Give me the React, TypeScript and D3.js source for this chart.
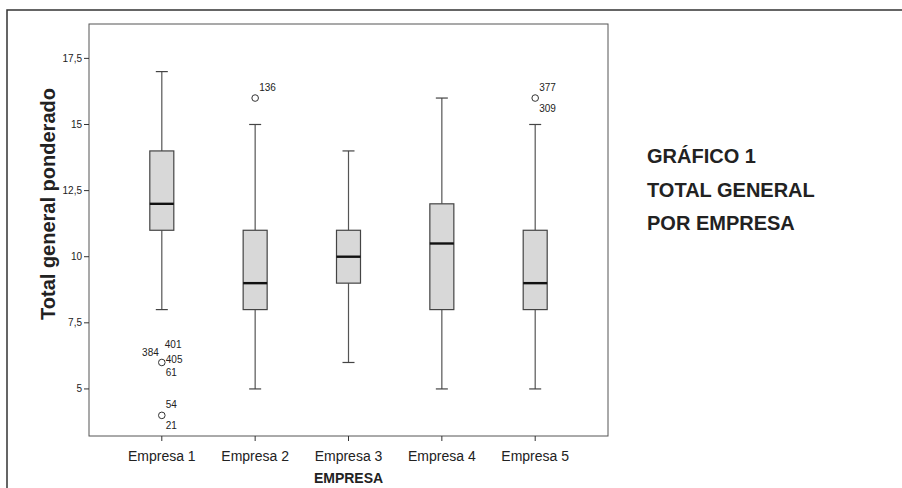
import * as d3 from "d3";

const WIDTH = 902;
const HEIGHT = 488;
const PLOT = { left: 89, top: 24, right: 608, bottom: 436 };

// boxplot summaries
const empresas = ["Empresa 1", "Empresa 2", "Empresa 3", "Empresa 4", "Empresa 5"];
const whiskerLow = [8, 5, 6, 5, 5];
const q1 = [11, 8, 9, 8, 8];
const medians = [12, 9, 10, 10.5, 9];
const q3 = [14, 11, 11, 12, 11];
const whiskerHigh = [17, 15, 14, 16, 15];

// outliers: empresa, value, case labels (with side they are written on)
const outliers = [
  { empresa: "Empresa 1", value: 6, labels: [["401", "top2"], ["384", "left"], ["405", "right"], ["61", "bottom"]] },
  { empresa: "Empresa 1", value: 4, labels: [["54", "top"], ["21", "bottom"]] },
  { empresa: "Empresa 2", value: 16, labels: [["136", "top"]] },
  { empresa: "Empresa 5", value: 16, labels: [["377", "top"], ["309", "bottom"]] },
];

const yTicks = [5, 7.5, 10, 12.5, 15, 17.5];
const titleLines = ["GRÁFICO 1", "TOTAL GENERAL", "POR EMPRESA"];

const LABEL_OFFSET: Record<string, [number, number, string]> = {
  top: [4, -7.5, "start"],
  top2: [3, -14, "start"],
  left: [-3, -6, "end"],
  right: [4, 1, "start"],
  bottom: [4, 13.5, "start"],
};

const fmt = (v: number) => String(v).replace(".", ",");

export default function App() {
  const x = d3
    .scalePoint()
    .domain(empresas)
    .range([PLOT.left, PLOT.right])
    .padding(0.78);
  const y = d3.scaleLinear().domain([3.22, 18.8]).range([PLOT.bottom, PLOT.top]);

  const boxW = 24;
  const capW = 12;
  const font = "Liberation Sans, Arial, Helvetica, sans-serif";

  return (
    <svg
      width={WIDTH}
      height={HEIGHT}
      style={{ position: "absolute", left: 0, top: 0, background: "#fff" }}
      fontFamily={font}
    >
      {/* outer frame */}
      <path d={`M7,${HEIGHT} L7,10 L${WIDTH},10`} fill="none" stroke="#333" strokeWidth={1.5} />

      {/* plot frame */}
      <rect
        x={PLOT.left}
        y={PLOT.top}
        width={PLOT.right - PLOT.left}
        height={PLOT.bottom - PLOT.top}
        fill="none"
        stroke="#555"
        strokeWidth={1}
      />

      {/* y axis */}
      {yTicks.map((t) => (
        <g key={t}>
          <line x1={PLOT.left - 5} x2={PLOT.left} y1={y(t)} y2={y(t)} stroke="#333" />
          <text x={PLOT.left - 7} y={y(t) + 3.5} fontSize={10} textAnchor="end" fill="#222">
            {fmt(t)}
          </text>
        </g>
      ))}
      <text
        transform={`translate(55,${(PLOT.top + PLOT.bottom) / 2 - 26}) rotate(-90)`}
        textAnchor="middle"
        fontSize={20}
        fontWeight="bold"
        fill="#222"
      >
        Total general ponderado
      </text>

      {/* x axis */}
      {empresas.map((e) => (
        <g key={e}>
          <line x1={x(e)} x2={x(e)} y1={PLOT.bottom} y2={PLOT.bottom + 5} stroke="#333" />
          <text x={x(e)} y={461} fontSize={14} textAnchor="middle" fill="#222">
            {e}
          </text>
        </g>
      ))}
      <text x={(PLOT.left + PLOT.right) / 2} y={483} fontSize={14} fontWeight="bold" textAnchor="middle" fill="#222">
        EMPRESA
      </text>

      {/* boxes */}
      {empresas.map((e, i) => {
        const cx = x(e) as number;
        return (
          <g key={e}>
            <line x1={cx} x2={cx} y1={y(whiskerHigh[i])} y2={y(q3[i])} stroke="#555" strokeWidth={1.2} />
            <line x1={cx} x2={cx} y1={y(q1[i])} y2={y(whiskerLow[i])} stroke="#555" strokeWidth={1.2} />
            <line x1={cx - capW / 2} x2={cx + capW / 2} y1={y(whiskerHigh[i])} y2={y(whiskerHigh[i])} stroke="#444" strokeWidth={1.2} />
            <line x1={cx - capW / 2} x2={cx + capW / 2} y1={y(whiskerLow[i])} y2={y(whiskerLow[i])} stroke="#444" strokeWidth={1.2} />
            <rect
              x={cx - boxW / 2}
              y={y(q3[i])}
              width={boxW}
              height={y(q1[i]) - y(q3[i])}
              fill="#d8d8d8"
              stroke="#444"
              strokeWidth={1.2}
            />
            <line x1={cx - boxW / 2} x2={cx + boxW / 2} y1={y(medians[i])} y2={y(medians[i])} stroke="#111" strokeWidth={2.4} />
          </g>
        );
      })}

      {/* outliers */}
      {outliers.map((o, k) => {
        const cx = x(o.empresa) as number;
        const cy = y(o.value);
        return (
          <g key={k}>
            <circle cx={cx} cy={cy} r={3.3} fill="none" stroke="#333" strokeWidth={1} />
            {o.labels.map(([id, pos]) => {
              const [dx, dy, anchor] = LABEL_OFFSET[pos];
              return (
                <text key={id} x={cx + dx} y={cy + dy} fontSize={10} textAnchor={anchor} fill="#222">
                  {id}
                </text>
              );
            })}
          </g>
        );
      })}

      {/* side title */}
      {titleLines.map((t, i) => (
        <text key={t} x={647} y={163 + i * 33.7} fontSize={20} fontWeight="bold" fill="#222">
          {t}
        </text>
      ))}
    </svg>
  );
}
